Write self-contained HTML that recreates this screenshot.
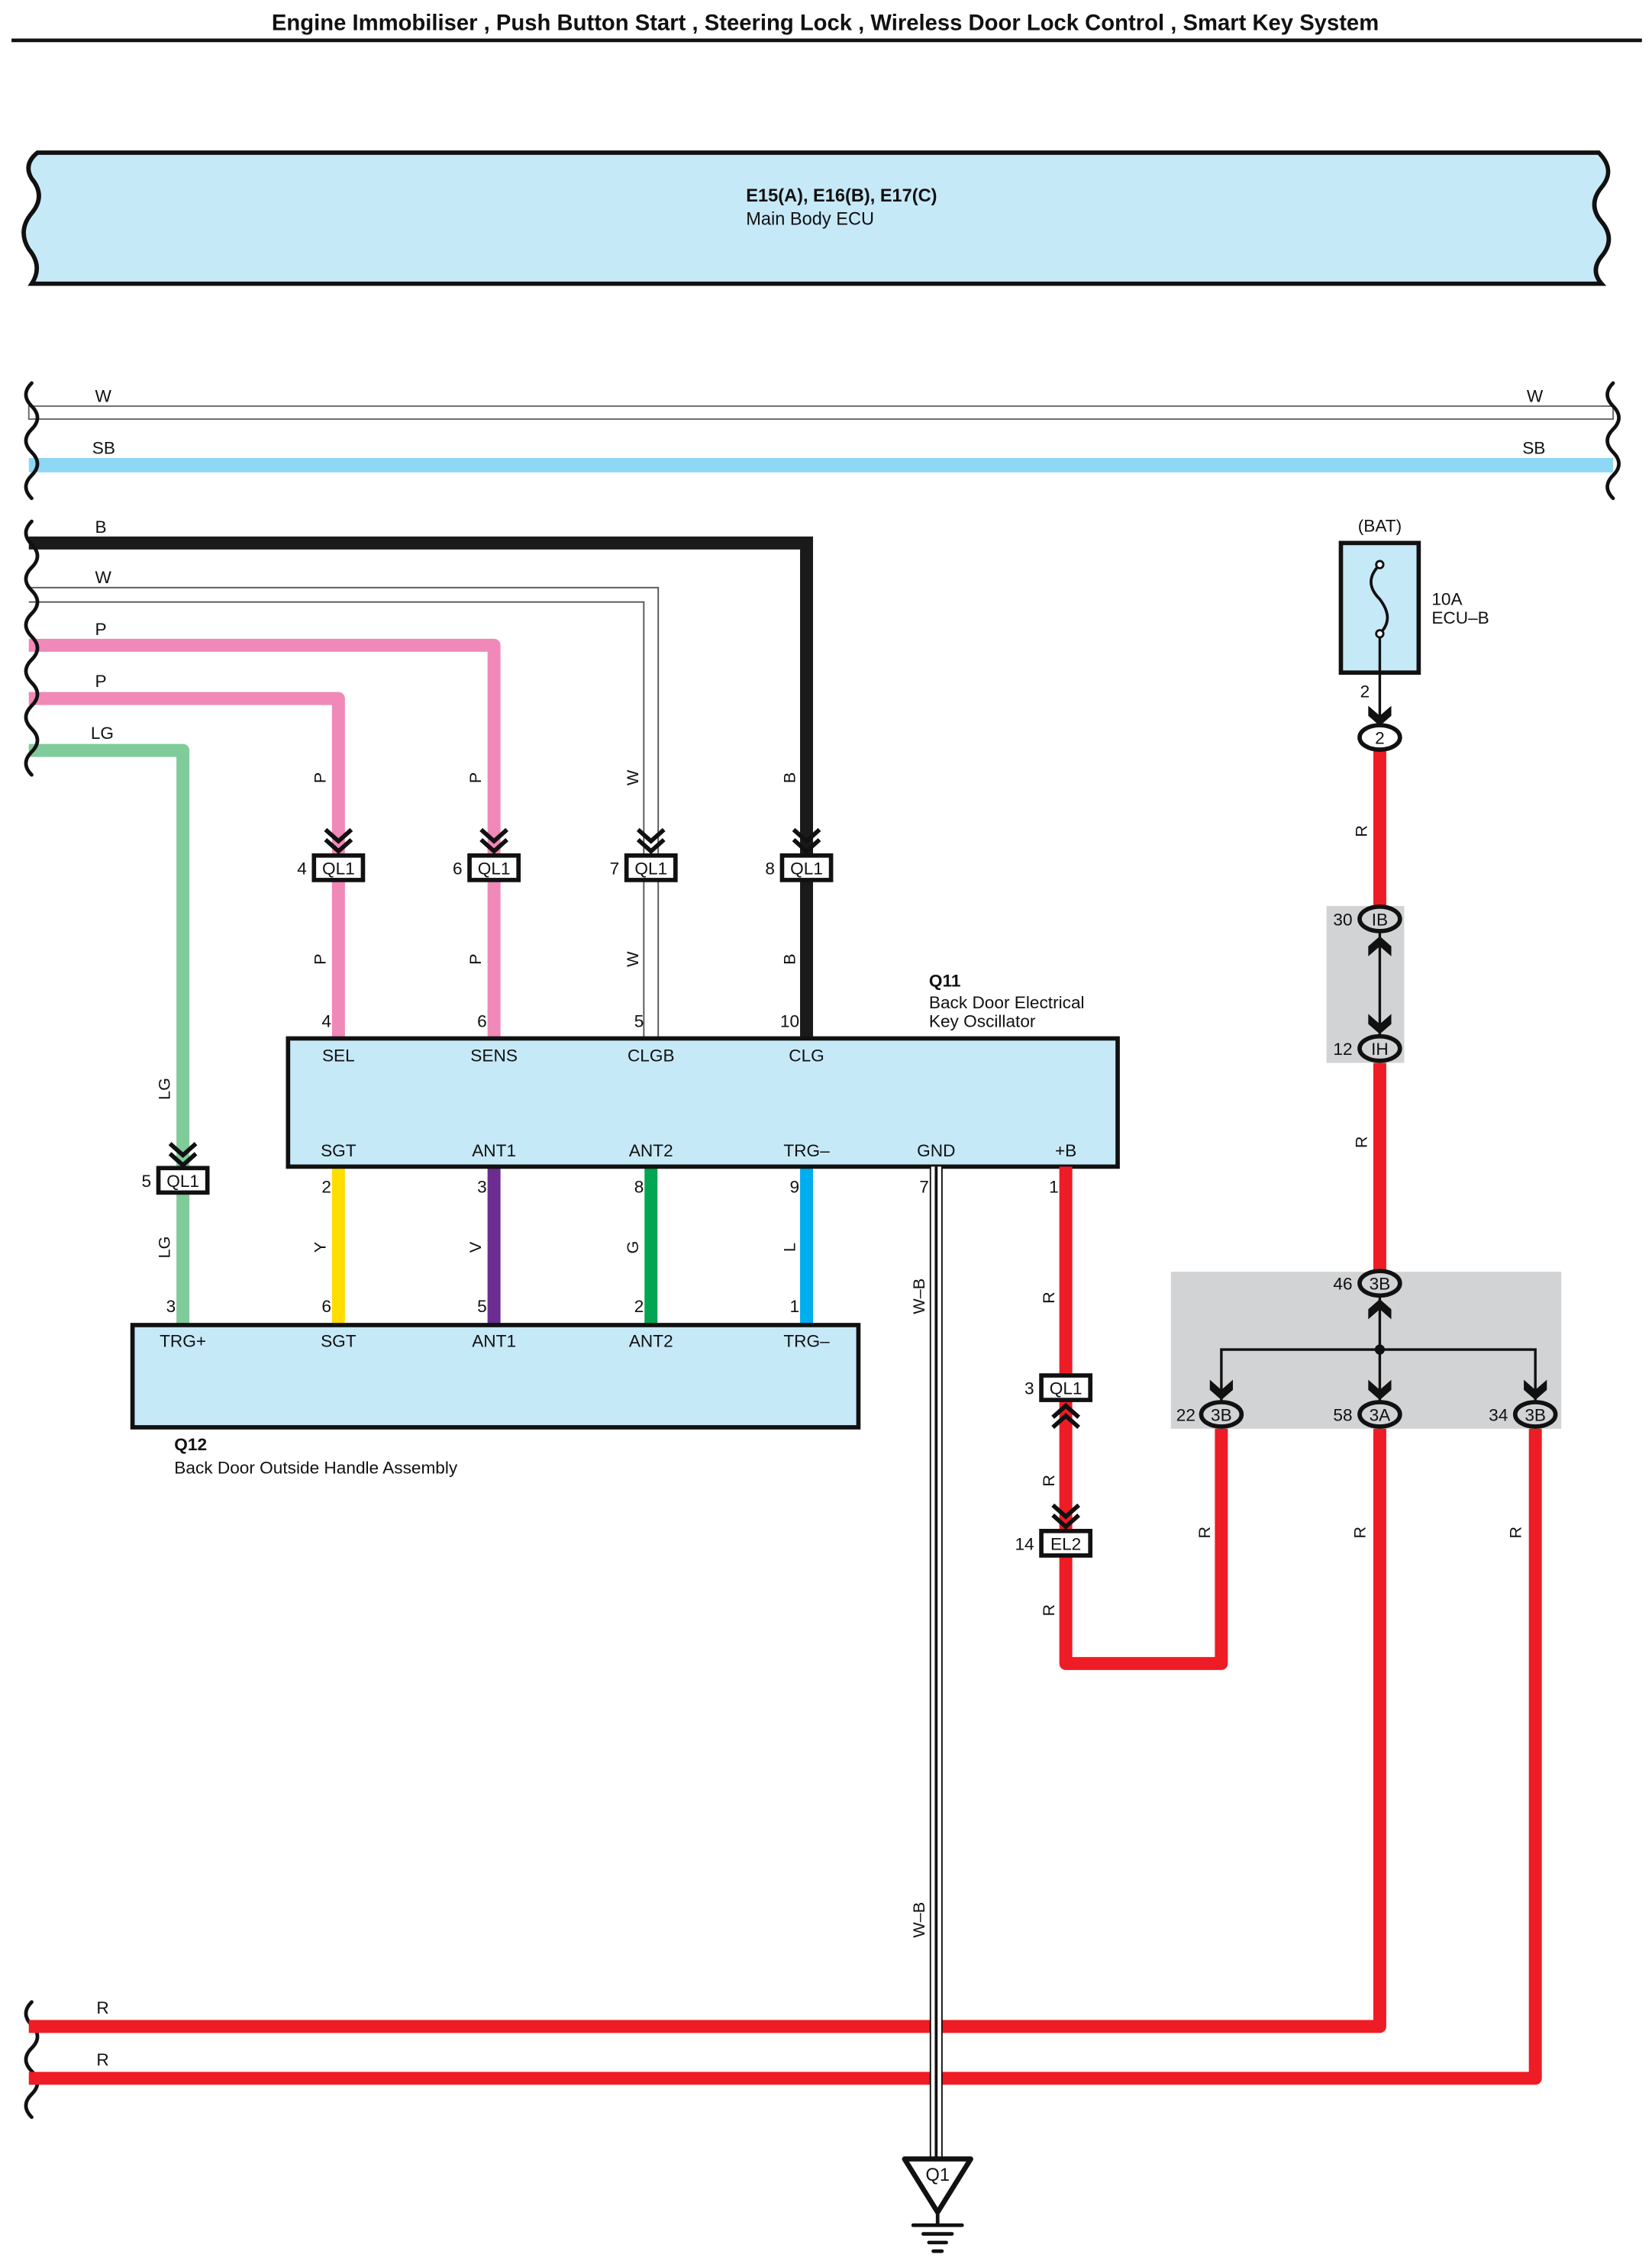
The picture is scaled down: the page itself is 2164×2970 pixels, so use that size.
<!DOCTYPE html>
<html><head><meta charset="utf-8"><style>
html,body{margin:0;padding:0;background:#fff;}
svg{display:block;}
text{font-family:"Liberation Sans",sans-serif;fill:#111;}
</style></head><body>
<svg width="2164" height="2970" viewBox="0 0 1147 1574" preserveAspectRatio="none" xmlns="http://www.w3.org/2000/svg">
<rect width="1147" height="1574" fill="#fff"/>
<text x="573" y="21" font-size="15.5" font-weight="bold" text-anchor="middle">Engine Immobiliser , Push Button Start , Steering Lock , Wireless Door Lock Control , Smart Key System</text>
<line x1="8" y1="28" x2="1140" y2="28" stroke="#111" stroke-width="2.5"/>

<!-- ECU banner -->
<path d="M26,106 L1110,106 Q1122,118 1112,130 Q1102,142 1112,154 Q1122,166 1112,178 Q1104,188 1112,197 L22,197 Q30,185 20,173 Q12,160 22,148 Q32,136 22,124 Q16,114 26,106 Z" fill="#c6e9f8" stroke="#111" stroke-width="3"/>
<text x="518" y="140" font-size="12.5" font-weight="bold">E15(A), E16(B), E17(C)</text>
<text x="518" y="156" font-size="12.5">Main Body ECU</text>

<!-- top bus wires -->
<rect x="20" y="282" width="1100" height="9" fill="#fff" stroke="#666" stroke-width="1"/>
<text x="66" y="279" font-size="12">W</text><text x="1060" y="279" font-size="12">W</text>
<line x1="20" y1="323" x2="1120" y2="323" stroke="#8fd8f5" stroke-width="10"/>
<text x="64" y="315" font-size="12">SB</text><text x="1057" y="315" font-size="12">SB</text>

<!-- left wires -->
<polyline points="20,377 560,377 560,720" fill="none" stroke="#1a1a1a" stroke-width="9"/>
<path d="M20,408 H457 V720 M20,418 H447 V720" fill="none" stroke="#555" stroke-width="1"/>
<polyline points="20,448 343,448 343,720" fill="none" stroke="#f088b8" stroke-width="9" stroke-linejoin="round"/>
<polyline points="20,485 235,485 235,720" fill="none" stroke="#f088b8" stroke-width="9" stroke-linejoin="round"/>
<polyline points="20,521 127,521 127,920" fill="none" stroke="#7fcb9a" stroke-width="9" stroke-linejoin="round"/>
<text x="66" y="370" font-size="12">B</text>
<text x="66" y="405" font-size="12">W</text>
<text x="66" y="441" font-size="12">P</text>
<text x="66" y="477" font-size="12">P</text>
<text x="63" y="513" font-size="12">LG</text>

<!-- wavy breaks -->
<g fill="none" stroke="#111" stroke-width="2.5" stroke-linecap="round">
<path d="M22,266 q-8,8 0,16 q8,8 0,16 q-8,8 0,16 q8,8 0,16 q-8,8 0,16"/>
<path d="M1120,266 q-8,8 0,16 q8,8 0,16 q-8,8 0,16 q8,8 0,16 q-8,8 0,16"/>
<path d="M22,362 q-8,8 0,16 q8,8 0,16 q-8,8 0,16 q8,8 0,16 q-8,8 0,16 q8,8 0,16 q-8,8 0,16 q8,8 0,16 q-8,8 0,16 q8,8 0,16 q-8,8 0,16"/>
<path d="M22,1390 q-8,8 0,16 q8,8 0,16 q-8,8 0,16 q8,8 0,16 q-8,8 0,16"/>
</g>

<!-- QL1 connectors top -->
<g fill="none" stroke="#111" stroke-width="3">
<path d="M226,576 l9,8 l9,-8 M226,583 l9,8 l9,-8"/>
<path d="M334,576 l9,8 l9,-8 M334,583 l9,8 l9,-8"/>
<path d="M443,576 l9,8 l9,-8 M443,583 l9,8 l9,-8"/>
<path d="M551,576 l9,8 l9,-8 M551,583 l9,8 l9,-8"/>
<path d="M118,794 l9,8 l9,-8 M118,801 l9,8 l9,-8"/>
</g>
<g fill="#fff" stroke="#111" stroke-width="3">
<rect x="218" y="594" width="34" height="17"/><rect x="326" y="594" width="34" height="17"/>
<rect x="435" y="594" width="34" height="17"/><rect x="543" y="594" width="34" height="17"/>
<rect x="110" y="811" width="34" height="17"/>
</g>
<g font-size="12" text-anchor="middle">
<text x="235" y="607">QL1</text><text x="343" y="607">QL1</text><text x="452" y="607">QL1</text><text x="560" y="607">QL1</text><text x="127" y="824">QL1</text>
</g>
<g font-size="12" text-anchor="end">
<text x="213" y="607">4</text><text x="321" y="607">6</text><text x="430" y="607">7</text><text x="538" y="607">8</text><text x="105" y="824">5</text>
</g>

<!-- rotated wire labels -->
<g font-size="11.5" text-anchor="middle">
<text transform="translate(226,540) rotate(-90)">P</text><text transform="translate(226,666) rotate(-90)">P</text>
<text transform="translate(334,540) rotate(-90)">P</text><text transform="translate(334,666) rotate(-90)">P</text>
<text transform="translate(443,540) rotate(-90)">W</text><text transform="translate(443,666) rotate(-90)">W</text>
<text transform="translate(552,540) rotate(-90)">B</text><text transform="translate(552,666) rotate(-90)">B</text>
<text transform="translate(118,756) rotate(-90)">LG</text><text transform="translate(118,866) rotate(-90)">LG</text>
<text transform="translate(226,866) rotate(-90)">Y</text><text transform="translate(334,866) rotate(-90)">V</text>
<text transform="translate(443,866) rotate(-90)">G</text><text transform="translate(552,866) rotate(-90)">L</text>
<text transform="translate(642,900) rotate(-90)">W–B</text><text transform="translate(642,1333) rotate(-90)">W–B</text>
<text transform="translate(732,901) rotate(-90)">R</text><text transform="translate(732,1028) rotate(-90)">R</text>
<text transform="translate(732,1118) rotate(-90)">R</text>
<text transform="translate(840,1064) rotate(-90)">R</text><text transform="translate(948,1064) rotate(-90)">R</text><text transform="translate(1056,1064) rotate(-90)">R</text>
<text transform="translate(949,577) rotate(-90)">R</text><text transform="translate(949,793) rotate(-90)">R</text>
</g>

<!-- lower wires Q11 to Q12 -->
<line x1="235" y1="810" x2="235" y2="920" stroke="#ffdd00" stroke-width="9"/>
<line x1="343" y1="810" x2="343" y2="920" stroke="#6b2d91" stroke-width="9"/>
<line x1="452" y1="810" x2="452" y2="920" stroke="#00a651" stroke-width="9"/>
<line x1="560" y1="810" x2="560" y2="920" stroke="#00aeef" stroke-width="9"/>

<!-- Q11 box -->
<rect x="200" y="721" width="576" height="89" fill="#c6e9f8" stroke="#111" stroke-width="3"/>
<g font-size="12" text-anchor="middle">
<text x="235" y="737">SEL</text><text x="343" y="737">SENS</text><text x="452" y="737">CLGB</text><text x="560" y="737">CLG</text>
<text x="235" y="803">SGT</text><text x="343" y="803">ANT1</text><text x="452" y="803">ANT2</text><text x="560" y="803">TRG–</text><text x="650" y="803">GND</text><text x="740" y="803">+B</text>
</g>
<g font-size="12" text-anchor="end">
<text x="230" y="713">4</text><text x="338" y="713">6</text><text x="447" y="713">5</text><text x="555" y="713">10</text>
<text x="230" y="828">2</text><text x="338" y="828">3</text><text x="447" y="828">8</text><text x="555" y="828">9</text><text x="645" y="828">7</text><text x="735" y="828">1</text>
<text x="230" y="911">6</text><text x="338" y="911">5</text><text x="447" y="911">2</text><text x="555" y="911">1</text><text x="122" y="911">3</text>
</g>
<text x="645" y="685" font-size="12" font-weight="bold">Q11</text>
<text x="645" y="700" font-size="12">Back Door Electrical</text>
<text x="645" y="713" font-size="12">Key Oscillator</text>

<!-- Q12 box -->
<rect x="92" y="920" width="504" height="71" fill="#c6e9f8" stroke="#111" stroke-width="3"/>
<g font-size="12" text-anchor="middle">
<text x="127" y="935">TRG+</text><text x="235" y="935">SGT</text><text x="343" y="935">ANT1</text><text x="452" y="935">ANT2</text><text x="560" y="935">TRG–</text>
</g>
<text x="121" y="1007" font-size="12" font-weight="bold">Q12</text>
<text x="121" y="1023" font-size="12">Back Door Outside Handle Assembly</text>

<!-- bottom red bus -->
<polyline points="20,1407 958,1407 958,990" fill="none" stroke="#ee1c25" stroke-width="9" stroke-linejoin="round"/>
<polyline points="20,1443 1066,1443 1066,990" fill="none" stroke="#ee1c25" stroke-width="9" stroke-linejoin="round"/>
<text x="67" y="1398" font-size="12">R</text><text x="67" y="1434" font-size="12">R</text>

<!-- GND W-B wire -->
<line x1="650" y1="810" x2="650" y2="1503" stroke="#111" stroke-width="9"/>
<line x1="650" y1="810" x2="650" y2="1503" stroke="#fff" stroke-width="7"/>
<line x1="650" y1="810" x2="650" y2="1503" stroke="#111" stroke-width="2"/>
<path d="M628,1499 L674,1499 L651,1536 Z" fill="#fff" stroke="#111" stroke-width="3.5" stroke-linejoin="round"/>
<text x="651" y="1514" font-size="12.5" text-anchor="middle">Q1</text>
<g stroke="#111" stroke-width="2.5" stroke-linecap="round">
<line x1="651" y1="1536" x2="651" y2="1545"/>
<line x1="634" y1="1545" x2="668" y2="1545"/>
<line x1="641" y1="1551" x2="661" y2="1551"/>
<line x1="645" y1="1557" x2="657" y2="1557"/>
<line x1="648" y1="1563" x2="654" y2="1563"/>
</g>

<!-- +B red wire -->
<polyline points="740,810 740,1155 848,1155 848,990" fill="none" stroke="#ee1c25" stroke-width="9" stroke-linejoin="round"/>
<rect x="723" y="955" width="34" height="17" fill="#fff" stroke="#111" stroke-width="3"/>
<text x="740" y="968" font-size="12" text-anchor="middle">QL1</text><text x="718" y="968" font-size="12" text-anchor="end">3</text>
<path d="M731,984 l9,-8 l9,8 M731,991 l9,-8 l9,8" fill="none" stroke="#111" stroke-width="3"/>
<path d="M731,1045 l9,8 l9,-8 M731,1052 l9,8 l9,-8" fill="none" stroke="#111" stroke-width="3"/>
<rect x="723" y="1063" width="34" height="17" fill="#fff" stroke="#111" stroke-width="3"/>
<text x="740" y="1076" font-size="12" text-anchor="middle">EL2</text><text x="718" y="1076" font-size="12" text-anchor="end">14</text>

<!-- right side battery -->
<text x="958" y="369" font-size="12" text-anchor="middle">(BAT)</text>
<rect x="931" y="377" width="54" height="90" fill="#c6e9f8" stroke="#111" stroke-width="3"/>
<path d="M958,392 C948,402 952,410 958,416 C964,424 966,432 958,440" fill="none" stroke="#111" stroke-width="2"/>
<circle cx="958" cy="392" r="2.5" fill="#fff" stroke="#111" stroke-width="1.5"/>
<circle cx="958" cy="440" r="2.5" fill="#fff" stroke="#111" stroke-width="1.5"/>
<text x="994" y="420" font-size="12">10A</text><text x="994" y="433" font-size="12">ECU–B</text>
<line x1="958" y1="442" x2="958" y2="500" stroke="#111" stroke-width="1.8"/>
<text x="951" y="484" font-size="12" text-anchor="end">2</text>
<path d="M950,490 L958,497 L966,490 L966,497 L958,504 L950,497 Z" fill="#111"/>
<line x1="958" y1="520" x2="958" y2="882" stroke="#ee1c25" stroke-width="9"/>
<ellipse cx="958" cy="512" rx="14" ry="8.5" fill="#fff" stroke="#111" stroke-width="3"/>
<text x="958" y="516.5" font-size="12" text-anchor="middle">2</text>

<!-- IB / IH gray box -->
<rect x="921" y="629" width="54" height="109" fill="#d1d3d4"/>
<line x1="958" y1="646" x2="958" y2="722" stroke="#111" stroke-width="1.8"/>
<path d="M950,657 L958,650 L966,657 L966,664 L958,657 L950,664 Z" fill="#111"/>
<path d="M950,711 L958,718 L966,711 L966,704 L958,711 L950,704 Z" fill="#111"/>
<ellipse cx="958" cy="638" rx="14" ry="8.5" fill="#d1d3d4" stroke="#111" stroke-width="3"/>
<text x="958" y="642.5" font-size="12" text-anchor="middle">IB</text><text x="939" y="642.5" font-size="12" text-anchor="end">30</text>
<ellipse cx="958" cy="728" rx="14" ry="8.5" fill="#d1d3d4" stroke="#111" stroke-width="3"/>
<text x="958" y="732.5" font-size="12" text-anchor="middle">IH</text><text x="939" y="732.5" font-size="12" text-anchor="end">12</text>

<!-- junction gray box -->
<rect x="813" y="883" width="271" height="109" fill="#d1d3d4"/>
<path d="M958,900 V937 M848,975 V937 H1066 V975 M958,937 V975" fill="none" stroke="#111" stroke-width="1.8"/>
<circle cx="958" cy="937" r="3.5" fill="#111"/>
<path d="M950,909 L958,902 L966,909 L966,916 L958,909 L950,916 Z" fill="#111"/>
<path d="M840,965 L848,972 L856,965 L856,958 L848,965 L840,958 Z" fill="#111"/>
<path d="M950,965 L958,972 L966,965 L966,958 L958,965 L950,958 Z" fill="#111"/>
<path d="M1058,965 L1066,972 L1074,965 L1074,958 L1066,965 L1058,958 Z" fill="#111"/>
<ellipse cx="958" cy="891" rx="14" ry="8.5" fill="#d1d3d4" stroke="#111" stroke-width="3"/>
<text x="958" y="895.5" font-size="12" text-anchor="middle">3B</text><text x="939" y="895.5" font-size="12" text-anchor="end">46</text>
<ellipse cx="848" cy="982" rx="14" ry="8.5" fill="#d1d3d4" stroke="#111" stroke-width="3"/>
<text x="848" y="986.5" font-size="12" text-anchor="middle">3B</text><text x="830" y="986.5" font-size="12" text-anchor="end">22</text>
<ellipse cx="958" cy="982" rx="14" ry="8.5" fill="#d1d3d4" stroke="#111" stroke-width="3"/>
<text x="958" y="986.5" font-size="12" text-anchor="middle">3A</text><text x="939" y="986.5" font-size="12" text-anchor="end">58</text>
<ellipse cx="1066" cy="982" rx="14" ry="8.5" fill="#d1d3d4" stroke="#111" stroke-width="3"/>
<text x="1066" y="986.5" font-size="12" text-anchor="middle">3B</text><text x="1047" y="986.5" font-size="12" text-anchor="end">34</text>
</svg>
</body></html>
